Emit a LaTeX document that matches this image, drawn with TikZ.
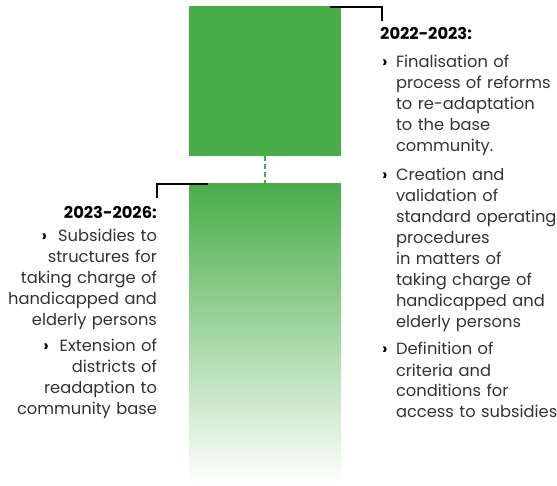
\documentclass[tikz,border=0pt]{standalone}
\usepackage{fontspec}
\setmainfont{Poppins}
\begin{document}
\begin{tikzpicture}[x=1pt,y=1pt,
  body/.style={text=txtgray,font=\fontsize{16.3}{21}\selectfont,inner sep=0pt,outer sep=0pt},
  head/.style={text=black,font=\fontsize{16.3}{21}\selectfont\bfseries,inner sep=0pt},
  bul/.style={text=black,font=\fontsize{16.3}{21}\selectfont\bfseries,inner sep=0pt},
  bracket/.style={line width=2pt,black}]
\definecolor{barg}{HTML}{49AD49}
\definecolor{txtgray}{HTML}{333333}
\useasboundingbox (0,0) rectangle (557,-486);
% bars
\node[fill=barg,minimum width=152,minimum height=150,inner sep=0,anchor=north west] (top) at (189,-6) {};
\node[top color=barg,bottom color=white,minimum width=152,minimum height=302,inner sep=0,anchor=north west] (bot) at (189,-183) {};
\draw[barg,line width=2.5pt,dash pattern=on 5pt off 3pt] (top.south) -- (bot.north);
% brackets
\coordinate (b1a) at (330,-7);
\coordinate (b1b) at (382,-7);
\coordinate (b1c) at (382,-21);
\draw[bracket] (b1a) -- (b1b) -- (b1c);
\coordinate (b2a) at (208,-184);
\coordinate (b2b) at (157,-184);
\coordinate (b2c) at (157,-198);
\draw[bracket] (b2a) -- (b2b) -- (b2c);
% right column
\node[head,anchor=base west] (rh) at (380,-40) {2022-2023:};
\node[bul,anchor=base west] (rb1) at (382,-68) {›};
\node[body,anchor=base west,text width=170,align=left] (rt1) at (396,-68) {Finalisation of\\process of reforms\\to re-adaptation\\to the base\\community.};
\node[bul,anchor=base west] (rb2) at (382,-181) {›};
\node[body,anchor=base west,text width=170,align=left] (rt2) at (396,-181) {Creation and\\validation of\\standard operating\\procedures\\in matters of\\taking charge of\\handicapped and\\elderly persons};
\node[bul,anchor=base west] (rb3) at (382,-355) {›};
\node[body,anchor=base west,text width=170,align=left] (rt3) at (396,-355) {Definition of\\criteria and\\conditions for\\access to subsidies};
% left column
\node[head,anchor=base east] (lh) at (157,-219) {2023-2026:};
\node[body,anchor=base east,text width=170,align=right] (lt1) at (157,-242) {{\bfseries\color{black}›}\ \ Subsidies to\\structures for\\taking charge of\\handicapped and\\elderly persons};
\node[body,anchor=base east,text width=170,align=right] (lt2) at (157,-352) {{\bfseries\color{black}›}\ \ Extension of\\districts of\\readaption to\\community base};
\end{tikzpicture}
\end{document}
